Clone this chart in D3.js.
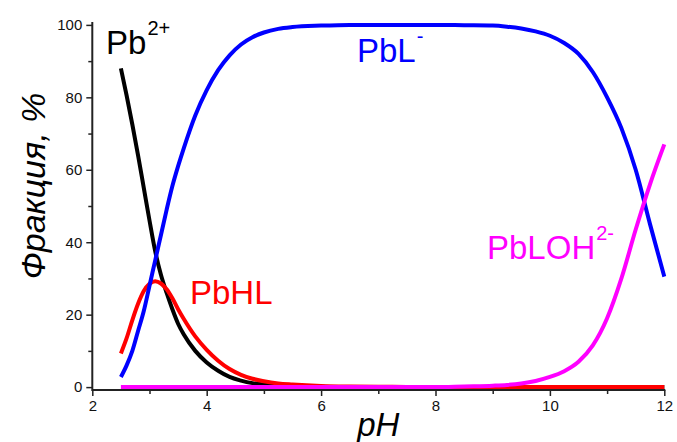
<!DOCTYPE html>
<html>
<head>
<meta charset="utf-8">
<script src="https://cdn.jsdelivr.net/npm/d3@7/dist/d3.min.js"></script>
<style>
  body { margin: 0; background: #fff; }
  svg { display: block; font-family: "Liberation Sans", Arial, sans-serif; }
</style>
</head>
<body>
<svg id="chart" width="677" height="442"></svg>
<script>
// pH grid shared by all species
const pH = [2.5, 2.6, 2.7, 2.8, 2.9, 3.0, 3.1, 3.2, 3.3, 3.4, 3.5, 3.6, 3.8, 4.0, 4.2, 4.4, 4.6, 4.8, 5.0,
  5.25, 5.5, 6, 6.5, 7, 7.5, 8, 8.5, 9, 9.25, 9.5, 9.75, 10, 10.25, 10.5, 10.75, 11, 11.25, 11.5, 11.75, 12];

// fractions, %
const pb2 = [88, 80.5, 72.5, 64, 55, 46, 37.5, 31, 26, 21.5, 17.5, 14.5, 10, 6.8, 4.5, 2.8, 1.8, 1.1, 0.7,
  0.4, 0.2, 0.1, 0, 0, 0, 0, 0, 0, 0, 0, 0, 0, 0, 0, 0, 0, 0, 0, 0, 0];
const pbHL = [9.3, 13.5, 18.5, 23, 26.5, 28.5, 29.2, 28.6, 27, 24.5, 21.5, 18.8, 14, 10.3, 7.3, 5, 3.4, 2.3, 1.6,
  1.0, 0.7, 0.3, 0.15, 0.1, 0.05, 0, 0, 0, 0, 0, 0, 0, 0, 0, 0, 0, 0, 0, 0, 0];
const pbL = [2.8, 6, 10, 15.5, 21, 28, 35, 42, 49, 55.5, 61, 66, 75, 82, 87.5, 91.6, 94.6, 96.6, 97.9,
  98.9, 99.4, 99.8, 100, 100, 100, 100, 99.9, 99.8, 99.5, 99, 98.2, 97, 95, 92, 87, 80, 71.5, 60, 45, 30.5];
const pbLOH = [0, 0, 0, 0, 0, 0, 0, 0, 0, 0, 0, 0, 0, 0, 0, 0, 0, 0, 0,
  0, 0, 0, 0, 0, 0, 0, 0.2, 0.4, 0.6, 1.0, 1.7, 2.8, 4.4, 7, 11.5, 19, 30, 43.5, 56, 67];

const xTicks = [2, 4, 6, 8, 10, 12];
const xMinor = [3, 5, 7, 9, 11];
const yTicks = [0, 20, 40, 60, 80, 100];
const yMinor = [10, 30, 50, 70, 90];

const series = [
  { name: "Pb2+", values: pb2, color: "#000000" },
  { name: "PbHL", values: pbHL, color: "#ff0000" },
  { name: "PbL-", values: pbL, color: "#0000ff" },
  { name: "PbLOH2-", values: pbLOH, color: "#ff00ff" }
];

// label text, superscript, colour, anchor point
const labels = [
  { main: "Pb", sup: "2+", color: "#000", x: 106, y: 54 },
  { main: "PbHL", sup: "", color: "#ff0000", x: 190, y: 304 },
  { main: "PbL", sup: "-", color: "#0000ff", x: 357, y: 62 },
  { main: "PbLOH", sup: "2-", color: "#ff00ff", x: 487, y: 259 }
];

const svg = d3.select("#chart");

const x = d3.scaleLinear().domain([2, 12]).range([92.3, 664.3]);
const y = d3.scaleLinear().domain([-0.8, 100.8]).range([390, 22]);

const axisColor = "#222";

// ── axes ──
const gx = svg.append("g").attr("transform", `translate(0,${y(-0.8)})`);
gx.call(d3.axisBottom(x).tickValues(xTicks).tickSize(6).tickPadding(4).tickFormat(d3.format("d")));
gx.append("g").call(d3.axisBottom(x).tickValues(xMinor).tickSize(4).tickFormat(""));

const gy = svg.append("g").attr("transform", `translate(${x(2)},0)`);
gy.call(d3.axisLeft(y).tickValues(yTicks).tickSize(6).tickPadding(4).tickFormat(d3.format("d")));
gy.append("g").call(d3.axisLeft(y).tickValues(yMinor).tickSize(4).tickFormat(""));

svg.selectAll(".domain").remove();
svg.selectAll(".tick line").attr("stroke", axisColor).attr("stroke-width", 1.5);
svg.selectAll(".tick text")
  .attr("fill", "#111")
  .style("font-size", "15px")
  .style("font-family", "'Liberation Sans', Arial, sans-serif");

svg.append("line")
  .attr("x1", x(2)).attr("x2", x(12) + 1)
  .attr("y1", y(-0.8)).attr("y2", y(-0.8))
  .attr("stroke", axisColor).attr("stroke-width", 2);
svg.append("line")
  .attr("x1", x(2)).attr("x2", x(2))
  .attr("y1", y(-0.8) + 1).attr("y2", y(100.8))
  .attr("stroke", axisColor).attr("stroke-width", 2);

// ── curves ──
const line = d3.line()
  .x((d, i) => x(pH[i]))
  .y((d) => y(d))
  .curve(d3.curveMonotoneX);

svg.append("g")
  .selectAll("path")
  .data(series)
  .join("path")
  .attr("d", (s) => line(s.values))
  .attr("fill", "none")
  .attr("stroke", (s) => s.color)
  .attr("stroke-width", 4)
  .attr("stroke-linejoin", "round");

// ── species labels ──
const lbl = svg.append("g")
  .selectAll("text")
  .data(labels)
  .join("text")
  .attr("x", (d) => d.x)
  .attr("y", (d) => d.y)
  .attr("fill", (d) => d.color)
  .style("font-size", "33px");
lbl.append("tspan").text((d) => d.main);
lbl.append("tspan")
  .attr("dy", -19)
  .attr("dx", 1)
  .style("font-size", "20px")
  .text((d) => d.sup);

// ── axis titles ──
svg.append("text")
  .attr("x", x(7))
  .attr("y", 436)
  .attr("text-anchor", "middle")
  .style("font-size", "33px")
  .style("font-style", "italic")
  .text("pH");

svg.append("text")
  .attr("transform", "translate(45,186) rotate(-90)")
  .attr("text-anchor", "middle")
  .style("font-size", "34px")
  .style("font-style", "italic")
  .text("Фракция, %");
</script>
</body>
</html>
